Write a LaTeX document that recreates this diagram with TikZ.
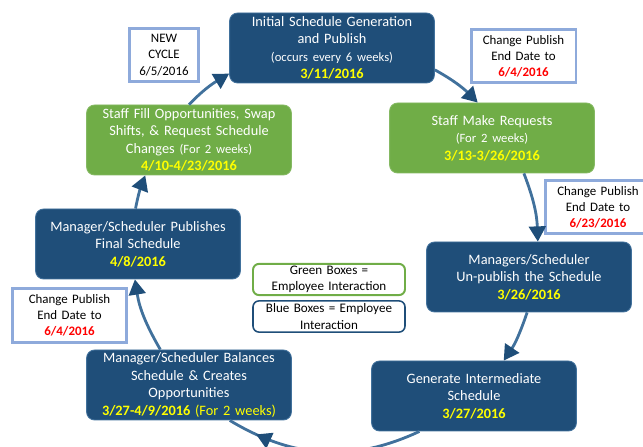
\documentclass[tikz,border=0pt]{standalone}
\usepackage{fontspec}
\setmainfont{Carlito}
\usepackage{tikz}
\usetikzlibrary{positioning, arrows.meta, decorations.markings}

\definecolor{boxBlue}{HTML}{1F4E79}
\definecolor{boxGreen}{HTML}{70AD47}
\definecolor{linkBlue}{HTML}{41719C}
\definecolor{noteBlue}{HTML}{8EAADB}
\definecolor{dateYellow}{HTML}{FFFF00}
\definecolor{dateRed}{HTML}{FF0000}

\newcommand{\yDate}[1]{{\color{dateYellow}\bfseries #1}}
\newcommand{\rDate}[1]{{\color{dateRed}\bfseries #1}}
\newcommand{\smallNote}[1]{{\fontsize{9}{11}\selectfont #1}}

\tikzset{
	stepBox/.style={draw=linkBlue, rectangle, rounded corners=0.2cm, line width=0.6pt, minimum width=5.1cm, 
	minimum height=1.75cm, text width=5.05cm, text centered, inner sep=1pt, text=white, font=\fontsize{10.2}{12.4}\selectfont},
	blueBox/.style={stepBox, fill=boxBlue},
	greenBox/.style={stepBox, fill=boxGreen, draw=boxGreen!85!white},
	noteBox/.style={draw=noteBlue, rectangle, line width=2pt, fill=white, text centered, inner sep=1pt, 
	minimum height=1.33cm, font=\fontsize{9.2}{11.5}\selectfont},
	legendBox/.style={draw, rectangle, rounded corners=0.15cm, line width=1.4pt, minimum width=3.8cm, 
	minimum height=0.78cm, text width=3.75cm, text centered, inner sep=0pt, font=\fontsize{9.3}{11.5}\selectfont},
	cycleLink/.style={draw=linkBlue, line width=2pt, -{Triangle[length=0.38cm,width=0.42cm,color=boxBlue]}}
}

\begin{document}
\begin{tikzpicture}
		\useasboundingbox (0,0) rectangle (16.075,11.175);
		
		\node (initSchedule) at (8.3,9.975) [blueBox]{Initial Schedule Generation\\and Publish\\
		\smallNote{(occurs every 6 weeks)}\\\yDate{3/11/2016}};
		
		\node (staffRequests) at (12.3,7.725) [greenBox]{Staff Make Requests\\\smallNote{(For 2 weeks)}\\
		\yDate{3/13-3/26/2016}};
		
		\node (unPublish) at (13.225,4.25) [blueBox]{Managers/Scheduler\\Un-publish the Schedule\\
		\yDate{3/26/2016}};
		
		\node (genSchedule) at (11.85,1.275) [blueBox]{Generate Intermediate\\Schedule\\\yDate{3/27/2016}};
		
		\node (balanceSchedule) at (4.725,1.55) [blueBox]{Manager/Scheduler Balances\\Schedule \& Creates\\
		Opportunities\\\yDate{3/27-4/9/2016} {\color{dateYellow}(For 2 weeks)}};
		
		\node (publishFinal) at (3.45,5.075) [blueBox]{Manager/Scheduler Publishes\\Final Schedule\\
		\yDate{4/8/2016}};
		
		\node (staffFill) at (4.725,7.675) [greenBox]{Staff Fill Opportunities, Swap\\Shifts, \& Request Schedule\\
		Changes \smallNote{(For 2 weeks)}\\\yDate{4/10-4/23/2016}};
		
		\node (newCycle) at (4.1,9.8) [noteBox, minimum width=1.72cm, text width=1.65cm]{NEW\\CYCLE\\6/5/2016};
		
		\node (changeDate1) at (13.0875,9.775) [noteBox, minimum width=2.6cm, text width=2.55cm]{Change Publish\\
		End Date to\\\rDate{6/4/2016}};
		
		\node (changeDate2) at (14.95,6.0) [noteBox, minimum width=2.63cm, text width=2.55cm]{Change Publish\\
		End Date to\\\rDate{6/23/2016}};
		
		\node (changeDate3) at (1.7375,3.2875) [noteBox, minimum width=2.85cm, text width=2.7cm]{Change Publish\\
		End Date to\\\rDate{6/4/2016}};
		
		\node (legendGreen) at (8.225,4.1875) [legendBox, draw=boxGreen]{Green Boxes =\\Employee Interaction};
		
		\node (legendBlue) at (8.225,3.2625) [legendBox, draw=boxBlue, line width=1.1pt]{Blue Boxes = Employee\\
		Interaction};
		
		%Links
		\draw[cycleLink] (staffFill.north) to[out=46,in=211] (initSchedule.194);
		\draw[cycleLink] (initSchedule.348) to[out=-29,in=135] (staffRequests.112);
		\draw[cycleLink] (staffRequests.-48) to[out=-69,in=92] (unPublish.76);
		\draw[cycleLink] (unPublish.267) to[out=-109,in=56] (genSchedule.50);
		\draw[cycleLink, -, postaction={decorate}, decoration={markings, mark=at position 0.85 with 
		{\arrow{Triangle[length=0.38cm,width=0.42cm,color=boxBlue]}}}] (genSchedule.213) to[out=205,in=-31] 
		(balanceSchedule.319);
		\draw[cycleLink] (balanceSchedule.129) to[out=120,in=279] (publishFinal.265);
		\draw[cycleLink] (publishFinal.94) to[out=79,in=249] (staffFill.219);
		
\end{tikzpicture}
\end{document}
